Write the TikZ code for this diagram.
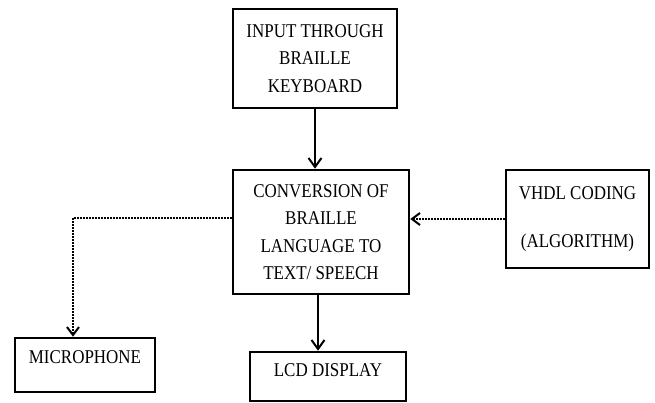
\documentclass[tikz,border=0pt]{standalone}
\usepackage{fontspec}
\setmainfont{Liberation Serif}[FakeStretch=0.87]
\usetikzlibrary{arrows.meta}
\tikzset{
  block/.style = {draw, line width=2.6pt, align=center, inner sep=0pt,
                  font=\fontsize{19.5}{27.5}\selectfont},
  flow/.style = {line width=2pt, -{Straight Barb[length=9pt,width=13pt,line width=2pt]}},
  dots/.style = {line width=2pt, dash pattern=on 1.6pt off 1.4pt,
                 -{Straight Barb[length=8pt,width=12pt,line width=2pt]}}
}
\begin{document}
\begin{tikzpicture}[x=1pt,y=1pt]
    \useasboundingbox (0,0) rectangle (655,-403);
    \node (input) at (315,-58.5) [block, minimum width=164, minimum height=99]
      {INPUT THROUGH\\BRAILLE\\KEYBOARD};
    \node (conv) at (321,-232) [block, minimum width=176, minimum height=124]
      {CONVERSION OF\\BRAILLE\\LANGUAGE TO\\TEXT/ SPEECH};
    \node (vhdl) at (577.5,-219) [block, minimum width=143, minimum height=98]
      {VHDL CODING\\[20pt](ALGORITHM)};
    \node (mic) at (85,-365) [block, minimum width=140, minimum height=54, text depth=15pt]
      {MICROPHONE};
    \node (lcd) at (328,-376.5) [block, minimum width=156, minimum height=49, text depth=13pt]
      {LCD DISPLAY};
    \coordinate (bend) at (73,-218);
    \draw[flow] (input.south) -- (input.south |- conv.north);
    \draw[flow] ([xshift=-3pt]conv.south) -- ([xshift=-3pt]conv.south |- lcd.north);
    \draw[dots] (vhdl.west) -- (vhdl.west -| conv.east);
    \draw[dots] (conv.west |- bend) -- (bend) -- (bend |- mic.north);
\end{tikzpicture}
\end{document}
